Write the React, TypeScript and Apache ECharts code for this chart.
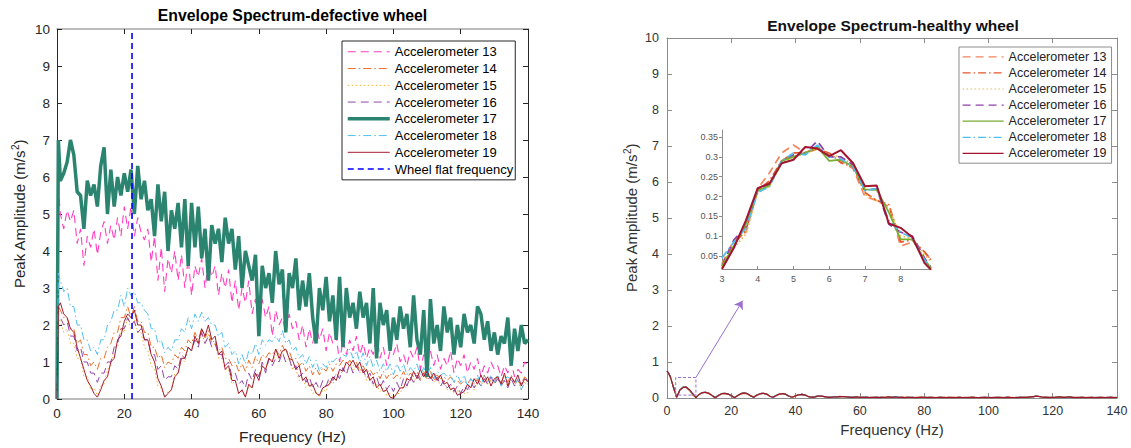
import React, { useEffect, useRef } from "react";
import * as echarts from "echarts";

// ---------- shared frequency grid (Hz): DC, 0.4 Hz, then 1..140 Hz ----------
const freqHz = [0, 0.4, ...Array.from({ length: 140 }, (_, i) => i + 1)];

// ---------- defective wheel (left) ----------
const defect13 = [0, 5.7,
  5.0, 4.6, 5.1, 4.8, 5.1, 4.2, 4.6, 3.6, 4.4, 4.1,
  4.6, 3.9, 4.5, 4.8, 4.2, 4.7, 4.3, 4.9, 4.4, 5.2,
  4.6, 5.2, 4.4, 4.9, 4.5, 4.3, 4.6, 3.7, 4.4, 3.2,
  4.1, 2.9, 3.8, 3.4, 4.0, 3.2, 3.9, 3.0, 3.8, 2.8,
  3.6, 3.3, 3.8, 3.0, 3.7, 3.3, 3.6, 2.8, 3.4, 3.0,
  3.5, 2.6, 3.2, 2.4, 3.0, 2.6, 3.2, 2.3, 2.7, 2.0,
  2.7, 2.2, 2.5, 1.7, 2.4, 2.0, 2.2, 1.8, 2.3, 1.9,
  2.1, 1.6, 2.0, 1.4, 1.9, 1.5, 2.0, 1.6, 1.9, 1.3,
  1.8, 1.5, 1.7, 1.0, 1.6, 1.2, 1.6, 1.3, 1.7, 1.2,
  1.5, 1.1, 1.4, 1.2, 1.8, 1.1, 1.4, 0.9, 1.3, 1.2,
  1.5, 1.0, 1.2, 0.9, 1.3, 1.1, 1.4, 0.8, 1.2, 1.0,
  1.3, 0.9, 1.2, 0.8, 1.1, 0.9, 1.3, 0.7, 1.1, 0.9,
  1.2, 0.7, 1.0, 0.8, 1.1, 0.6, 0.9, 0.7, 1.0, 0.8,
  0.9, 0.6, 0.9, 0.7, 1.0, 0.6, 0.8, 0.7, 1.0, 0.9];
const defect14 = [0, 2.5,
  2.4, 2.2, 2.2, 1.9, 1.9, 1.5, 1.6, 1.2, 1.2, 0.9,
  1.0, 0.8, 1.1, 1.1, 1.4, 1.5, 1.8, 1.8, 2.2, 2.2,
  2.5, 2.2, 2.5, 2.1, 2.1, 1.8, 1.8, 1.4, 1.4, 1.1,
  1.2, 0.85, 1.0, 0.95, 1.2, 1.1, 1.4, 1.3, 1.6, 1.5,
  1.8, 1.6, 1.9, 1.65, 1.85, 1.5, 1.6, 1.3, 1.4, 1.1,
  1.1, 0.9, 1.0, 0.75, 0.95, 0.75, 1.05, 0.85, 1.15, 0.95,
  1.2, 1.1, 1.25, 1.2, 1.35, 1.2, 1.45, 1.25, 1.3, 1.05,
  1.1, 0.9, 1.0, 0.75, 0.9, 0.65, 0.85, 0.65, 0.85, 0.75,
  0.95, 0.75, 0.95, 0.9, 1.05, 0.9, 1.05, 0.9, 1.0, 0.75,
  0.9, 0.7, 0.8, 0.65, 0.75, 0.55, 0.75, 0.55, 0.7, 0.55,
  0.65, 0.55, 0.75, 0.55, 0.7, 0.6, 0.75, 0.55, 0.75, 0.55,
  0.75, 0.5, 0.65, 0.55, 0.6, 0.5, 0.6, 0.45, 0.5, 0.4,
  0.5, 0.4, 0.55, 0.4, 0.55, 0.45, 0.65, 0.45, 0.5, 0.45,
  0.65, 0.45, 0.65, 0.45, 0.65, 0.45, 0.5, 0.4, 0.6, 0.5];
const defect15 = [0, 2.2,
  2.1, 1.8, 1.9, 1.5, 1.5, 1.1, 1.1, 0.6, 0.6, 0.25,
  0.3, 0.1, 0.35, 0.4, 0.8, 0.9, 1.4, 1.4, 1.9, 1.8,
  2.2, 1.9, 2.15, 1.8, 1.8, 1.4, 1.3, 0.9, 0.8, 0.35,
  0.3, 0.05, 0.2, 0.25, 0.7, 0.7, 1.1, 1.0, 1.4, 1.3,
  1.6, 1.5, 1.8, 1.5, 1.75, 1.4, 1.5, 1.1, 1.1, 0.8,
  0.8, 0.4, 0.5, 0.15, 0.2, 0.05, 0.35, 0.3, 0.7, 0.6,
  0.9, 0.8, 1.1, 1.0, 1.2, 1.1, 1.3, 1.0, 1.1, 0.8,
  0.8, 0.5, 0.6, 0.3, 0.4, 0.15, 0.2, 0.05, 0.25, 0.2,
  0.5, 0.4, 0.7, 0.6, 0.8, 0.7, 0.95, 0.75, 0.95, 0.7,
  0.8, 0.5, 0.6, 0.35, 0.4, 0.2, 0.3, 0.1, 0.15, 0.05,
  0.15, 0.15, 0.35, 0.3, 0.55, 0.45, 0.65, 0.5, 0.75, 0.55,
  0.65, 0.45, 0.55, 0.35, 0.45, 0.25, 0.35, 0.15, 0.25, 0.05,
  0.15, 0.15, 0.35, 0.25, 0.45, 0.35, 0.55, 0.4, 0.5, 0.4,
  0.6, 0.4, 0.5, 0.35, 0.5, 0.4, 0.5, 0.25, 0.45, 0.4];
const defect16 = [0, 2.3,
  2.2, 2.0, 2.1, 1.7, 1.7, 1.3, 1.4, 1.0, 1.0, 0.7,
  0.7, 0.45, 0.7, 0.7, 1.0, 1.0, 1.4, 1.5, 1.9, 1.9,
  2.2, 2.0, 2.1, 1.8, 1.9, 1.6, 1.6, 1.2, 1.2, 0.8,
  0.9, 0.5, 0.6, 0.6, 0.9, 0.8, 1.2, 1.1, 1.4, 1.3,
  1.6, 1.4, 1.8, 1.5, 1.7, 1.4, 1.5, 1.2, 1.2, 0.9,
  1.0, 0.6, 0.7, 0.4, 0.5, 0.3, 0.7, 0.5, 0.8, 0.6,
  1.0, 0.7, 1.1, 0.9, 1.1, 1.0, 1.25, 1.0, 1.1, 0.8,
  0.9, 0.6, 0.7, 0.45, 0.6, 0.3, 0.45, 0.25, 0.5, 0.35,
  0.6, 0.5, 0.7, 0.55, 0.85, 0.65, 0.95, 0.7, 0.9, 0.7,
  0.8, 0.55, 0.7, 0.4, 0.6, 0.3, 0.5, 0.25, 0.4, 0.2,
  0.45, 0.25, 0.55, 0.35, 0.6, 0.45, 0.65, 0.5, 0.7, 0.5,
  0.6, 0.45, 0.6, 0.35, 0.5, 0.3, 0.4, 0.2, 0.35, 0.15,
  0.35, 0.25, 0.45, 0.3, 0.5, 0.35, 0.55, 0.4, 0.6, 0.4,
  0.55, 0.35, 0.5, 0.3, 0.55, 0.35, 0.5, 0.4, 0.55, 0.5];
const defect17 = [0, 7.0,
  5.9, 6.1, 6.4, 7.0, 6.6, 5.6, 5.5, 4.6, 5.9, 5.5,
  5.8, 5.2, 6.3, 6.8, 5.0, 6.2, 5.2, 6.0, 5.5, 6.1,
  5.6, 6.2, 5.0, 6.3, 5.4, 5.9, 5.1, 5.4, 4.4, 5.8,
  4.8, 5.6, 4.0, 5.1, 4.6, 5.3, 4.1, 5.4, 3.6, 5.3,
  4.1, 5.2, 3.8, 4.6, 3.2, 4.7, 4.2, 4.6, 3.7, 4.9,
  4.2, 4.6, 3.5, 4.4, 3.0, 4.0, 3.6, 3.2, 3.9, 1.7,
  3.6, 3.0, 3.4, 2.6, 4.0, 3.1, 3.5, 1.8, 3.4, 3.0,
  3.8, 2.4, 3.2, 2.5, 3.4, 2.2, 1.5, 3.0, 2.4, 3.3,
  2.1, 2.8, 1.6, 3.3, 1.4, 3.0, 2.2, 2.6, 1.9, 2.9,
  2.2, 2.6, 1.5, 3.0, 1.1, 2.6, 2.0, 2.4, 1.3, 2.2,
  1.6, 2.5, 1.9, 2.3, 1.4, 2.8, 1.6, 1.2, 2.4, 0.6,
  2.7, 1.5, 2.0, 1.3, 2.5, 1.8, 2.2, 1.2, 2.0, 1.4,
  2.3, 1.8, 2.0, 1.5, 2.5, 2.3, 1.6, 2.1, 1.3, 1.8,
  1.2, 1.7, 1.5, 2.2, 0.9, 1.9, 1.3, 2.0, 1.5, 1.6];
const defect18 = [0, 3.4,
  3.2, 2.9, 3.0, 2.5, 2.5, 2.0, 2.0, 1.6, 1.6, 1.3,
  1.4, 1.2, 1.6, 1.6, 2.0, 2.1, 2.4, 2.4, 2.8, 2.5,
  3.0, 2.8, 2.9, 2.6, 2.6, 2.4, 2.3, 1.9, 1.9, 1.5,
  1.6, 1.25, 1.4, 1.3, 1.6, 1.6, 1.9, 1.8, 2.2, 1.9,
  2.3, 2.1, 2.35, 2.1, 2.2, 2.0, 2.0, 1.7, 1.8, 1.4,
  1.5, 1.2, 1.3, 0.95, 1.2, 0.95, 1.3, 1.2, 1.5, 1.2,
  1.6, 1.45, 1.6, 1.55, 1.7, 1.55, 1.85, 1.5, 1.6, 1.3,
  1.4, 1.1, 1.2, 0.95, 1.15, 0.85, 1.05, 0.75, 0.95, 0.85,
  1.05, 1.0, 1.1, 1.1, 1.2, 1.15, 1.35, 1.1, 1.3, 1.0,
  1.25, 0.9, 1.15, 0.85, 1.05, 0.75, 0.95, 0.75, 0.95, 0.65,
  0.95, 0.75, 0.95, 0.65, 0.85, 0.75, 0.95, 0.65, 0.85, 0.65,
  0.85, 0.55, 0.75, 0.65, 0.7, 0.6, 0.65, 0.45, 0.65, 0.45,
  0.65, 0.35, 0.55, 0.45, 0.65, 0.35, 0.65, 0.45, 0.65, 0.45,
  0.65, 0.35, 0.55, 0.6, 0.5, 0.35, 0.55, 0.25, 0.45, 0.35];
const defect19 = [0, 2.5,
  2.6, 2.3, 2.2, 1.9, 1.8, 1.4, 1.1, 0.8, 0.5, 0.35,
  0.15, 0.05, 0.25, 0.5, 0.6, 1.0, 1.1, 1.6, 1.7, 2.1,
  2.3, 2.2, 2.4, 2.0, 2.0, 1.6, 1.6, 1.2, 1.0, 0.55,
  0.35, 0.05, 0.15, 0.25, 0.6, 0.7, 1.1, 1.1, 1.4, 1.3,
  1.7, 1.5, 1.9, 1.7, 2.0, 1.6, 1.7, 1.2, 1.3, 0.8,
  0.9, 0.5, 0.5, 0.15, 0.25, 0.05, 0.4, 0.3, 0.7, 0.5,
  0.9, 0.8, 1.1, 1.0, 1.35, 1.1, 1.3, 1.35, 1.1, 1.05,
  0.8, 0.9, 0.5, 0.6, 0.35, 0.4, 0.15, 0.1, 0.3, 0.35,
  0.4, 0.6, 0.5, 0.8, 0.75, 1.0, 0.9, 1.05, 0.85, 1.0,
  0.7, 0.8, 0.5, 0.6, 0.3, 0.4, 0.2, 0.25, 0.05, 0.02,
  0.15, 0.3, 0.3, 0.55, 0.5, 0.75, 0.55, 0.8, 0.6, 0.75,
  0.55, 0.7, 0.5, 0.65, 0.4, 0.45, 0.25, 0.3, 0.1, 0.15,
  0.2, 0.4, 0.3, 0.55, 0.4, 0.65, 0.45, 0.6, 0.35, 0.55,
  0.6, 0.4, 0.7, 0.35, 0.6, 0.45, 0.65, 0.35, 0.55, 0.45];
const wheelFlatHz = 22.3;

// ---------- healthy wheel (right) ----------
const healthy13 = [0.74, 0.69, 0.59, 0.31, 0.03, 0.22, 0.31, 0.30, 0.20, 0.08, 0.02, 0.10, 0.15, 0.15, 0.12, 0.07, 0.02, 0.07, 0.12, 0.13, 0.11, 0.06, 0.02, 0.07, 0.12, 0.13, 0.12, 0.06, 0.03, 0.08, 0.12, 0.13, 0.10, 0.05, 0.03, 0.07, 0.11, 0.12, 0.10, 0.05, 0.03, 0.06, 0.09, 0.10, 0.08, 0.04, 0.03, 0.04, 0.05, 0.05, 0.04, 0.03,
  0.03, 0.03, 0.04, 0.04, 0.04, 0.03, 0.03, 0.03, 0.03, 0.03, 0.02, 0.03, 0.02, 0.02, 0.03, 0.02, 0.02, 0.03, 0.03, 0.02,
  0.03, 0.03, 0.02, 0.02, 0.02, 0.02, 0.02, 0.02, 0.03, 0.02, 0.02, 0.02, 0.02, 0.02, 0.02, 0.02, 0.02, 0.03, 0.02, 0.02,
  0.02, 0.02, 0.02, 0.02, 0.03, 0.02, 0.02, 0.02, 0.02, 0.02, 0.02, 0.02, 0.02, 0.02, 0.02, 0.03, 0.02, 0.02, 0.02, 0.02,
  0.02, 0.03, 0.03, 0.04, 0.05, 0.04, 0.03, 0.02, 0.02, 0.02, 0.02, 0.03, 0.03, 0.02, 0.03, 0.02, 0.02, 0.02, 0.02, 0.02,
  0.02, 0.02, 0.02, 0.02, 0.02, 0.02, 0.02, 0.02, 0.02, 0.02];
const healthy14 = [0.75, 0.70, 0.60, 0.30, 0.02, 0.22, 0.31, 0.31, 0.21, 0.09, 0.02, 0.10, 0.15, 0.16, 0.12, 0.07, 0.02, 0.07, 0.12, 0.13, 0.11, 0.06, 0.02, 0.07, 0.12, 0.13, 0.12, 0.06, 0.02, 0.08, 0.12, 0.13, 0.11, 0.05, 0.02, 0.07, 0.11, 0.12, 0.10, 0.05, 0.02, 0.06, 0.09, 0.10, 0.08, 0.04, 0.02, 0.04, 0.05, 0.05, 0.04, 0.02,
  0.02, 0.03, 0.04, 0.05, 0.04, 0.03, 0.02, 0.03, 0.03, 0.02, 0.02, 0.02, 0.02, 0.03, 0.02, 0.02, 0.02, 0.02, 0.03, 0.02,
  0.04, 0.03, 0.02, 0.02, 0.02, 0.01, 0.02, 0.02, 0.02, 0.02, 0.02, 0.01, 0.02, 0.02, 0.02, 0.02, 0.01, 0.02, 0.02, 0.01,
  0.02, 0.02, 0.01, 0.02, 0.02, 0.02, 0.01, 0.02, 0.01, 0.02, 0.02, 0.01, 0.02, 0.02, 0.01, 0.02, 0.02, 0.01, 0.02, 0.02,
  0.02, 0.02, 0.03, 0.04, 0.06, 0.04, 0.03, 0.02, 0.02, 0.02, 0.02, 0.03, 0.02, 0.02, 0.04, 0.03, 0.02, 0.02, 0.02, 0.01,
  0.02, 0.02, 0.01, 0.02, 0.02, 0.01, 0.02, 0.02, 0.01, 0.02];
const healthy15 = [0.74, 0.70, 0.59, 0.30, 0.03, 0.21, 0.30, 0.31, 0.21, 0.10, 0.02, 0.10, 0.15, 0.15, 0.12, 0.07, 0.02, 0.07, 0.11, 0.13, 0.11, 0.06, 0.02, 0.07, 0.12, 0.13, 0.11, 0.06, 0.02, 0.08, 0.12, 0.13, 0.11, 0.05, 0.02, 0.07, 0.11, 0.12, 0.10, 0.05, 0.02, 0.06, 0.09, 0.10, 0.08, 0.04, 0.02, 0.04, 0.05, 0.05, 0.04, 0.02,
  0.03, 0.02, 0.03, 0.04, 0.03, 0.03, 0.02, 0.02, 0.03, 0.02, 0.02, 0.02, 0.01, 0.02, 0.02, 0.02, 0.02, 0.02, 0.03, 0.02,
  0.03, 0.02, 0.02, 0.02, 0.02, 0.02, 0.01, 0.02, 0.02, 0.02, 0.01, 0.02, 0.02, 0.01, 0.02, 0.02, 0.02, 0.01, 0.02, 0.02,
  0.02, 0.01, 0.02, 0.02, 0.02, 0.01, 0.02, 0.02, 0.02, 0.01, 0.02, 0.02, 0.02, 0.01, 0.02, 0.02, 0.01, 0.02, 0.02, 0.02,
  0.02, 0.02, 0.03, 0.03, 0.05, 0.04, 0.02, 0.02, 0.02, 0.02, 0.02, 0.02, 0.03, 0.02, 0.02, 0.02, 0.02, 0.01, 0.02, 0.02,
  0.01, 0.02, 0.02, 0.01, 0.02, 0.02, 0.01, 0.02, 0.02, 0.02];
const healthy16 = [0.75, 0.70, 0.60, 0.30, 0.02, 0.22, 0.30, 0.30, 0.22, 0.11, 0.02, 0.10, 0.15, 0.16, 0.13, 0.07, 0.01, 0.07, 0.12, 0.13, 0.11, 0.06, 0.01, 0.07, 0.12, 0.14, 0.12, 0.06, 0.02, 0.08, 0.12, 0.13, 0.11, 0.05, 0.02, 0.07, 0.11, 0.12, 0.10, 0.05, 0.02, 0.06, 0.09, 0.10, 0.08, 0.04, 0.02, 0.03, 0.05, 0.05, 0.04, 0.02,
  0.02, 0.03, 0.03, 0.04, 0.03, 0.03, 0.02, 0.02, 0.02, 0.02, 0.02, 0.02, 0.02, 0.02, 0.02, 0.01, 0.02, 0.02, 0.02, 0.02,
  0.03, 0.02, 0.02, 0.01, 0.02, 0.02, 0.01, 0.01, 0.02, 0.02, 0.01, 0.02, 0.01, 0.02, 0.02, 0.01, 0.01, 0.02, 0.01, 0.01,
  0.02, 0.01, 0.02, 0.01, 0.02, 0.01, 0.01, 0.02, 0.02, 0.01, 0.01, 0.02, 0.02, 0.01, 0.01, 0.02, 0.01, 0.02, 0.01, 0.02,
  0.02, 0.02, 0.03, 0.04, 0.05, 0.04, 0.02, 0.02, 0.01, 0.02, 0.02, 0.03, 0.02, 0.02, 0.03, 0.02, 0.01, 0.02, 0.02, 0.01,
  0.01, 0.02, 0.01, 0.01, 0.02, 0.01, 0.02, 0.02, 0.01, 0.01];
const healthy17 = [0.75, 0.70, 0.60, 0.30, 0.02, 0.21, 0.30, 0.29, 0.22, 0.09, 0.02, 0.10, 0.15, 0.16, 0.13, 0.07, 0.01, 0.07, 0.12, 0.13, 0.11, 0.06, 0.01, 0.07, 0.12, 0.14, 0.12, 0.06, 0.02, 0.08, 0.12, 0.13, 0.11, 0.05, 0.02, 0.07, 0.11, 0.12, 0.10, 0.05, 0.02, 0.06, 0.09, 0.10, 0.08, 0.04, 0.02, 0.03, 0.05, 0.05, 0.04, 0.02,
  0.02, 0.03, 0.03, 0.04, 0.04, 0.03, 0.02, 0.02, 0.03, 0.02, 0.02, 0.02, 0.01, 0.02, 0.02, 0.01, 0.02, 0.02, 0.03, 0.02,
  0.03, 0.02, 0.02, 0.01, 0.02, 0.02, 0.01, 0.01, 0.02, 0.02, 0.01, 0.02, 0.01, 0.01, 0.02, 0.01, 0.01, 0.02, 0.01, 0.01,
  0.02, 0.01, 0.01, 0.01, 0.02, 0.01, 0.01, 0.01, 0.02, 0.01, 0.01, 0.01, 0.02, 0.01, 0.01, 0.02, 0.01, 0.01, 0.01, 0.02,
  0.02, 0.02, 0.03, 0.04, 0.05, 0.04, 0.02, 0.02, 0.01, 0.02, 0.02, 0.03, 0.02, 0.02, 0.03, 0.02, 0.01, 0.01, 0.02, 0.01,
  0.01, 0.02, 0.01, 0.01, 0.02, 0.01, 0.01, 0.02, 0.01, 0.01];
const healthy18 = [0.75, 0.70, 0.60, 0.31, 0.04, 0.21, 0.31, 0.30, 0.22, 0.11, 0.02, 0.10, 0.15, 0.16, 0.13, 0.07, 0.02, 0.07, 0.12, 0.13, 0.11, 0.06, 0.02, 0.07, 0.12, 0.14, 0.12, 0.06, 0.02, 0.08, 0.12, 0.13, 0.11, 0.05, 0.02, 0.07, 0.11, 0.12, 0.10, 0.05, 0.02, 0.06, 0.09, 0.10, 0.08, 0.04, 0.02, 0.04, 0.05, 0.05, 0.04, 0.03,
  0.03, 0.03, 0.04, 0.04, 0.03, 0.03, 0.02, 0.03, 0.03, 0.02, 0.02, 0.03, 0.02, 0.02, 0.02, 0.02, 0.02, 0.02, 0.03, 0.03,
  0.03, 0.03, 0.02, 0.02, 0.02, 0.02, 0.02, 0.01, 0.02, 0.02, 0.02, 0.02, 0.02, 0.01, 0.02, 0.02, 0.02, 0.02, 0.02, 0.01,
  0.02, 0.02, 0.02, 0.01, 0.02, 0.02, 0.02, 0.01, 0.02, 0.02, 0.02, 0.01, 0.02, 0.02, 0.02, 0.02, 0.01, 0.02, 0.02, 0.02,
  0.02, 0.03, 0.03, 0.04, 0.05, 0.04, 0.03, 0.02, 0.02, 0.02, 0.02, 0.03, 0.02, 0.02, 0.03, 0.02, 0.02, 0.02, 0.02, 0.02,
  0.02, 0.02, 0.02, 0.02, 0.02, 0.02, 0.02, 0.02, 0.02, 0.02];
const healthy19 = [0.75, 0.70, 0.60, 0.30, 0.02, 0.22, 0.29, 0.30, 0.23, 0.12, 0.01, 0.10, 0.15, 0.16, 0.13, 0.07, 0.01, 0.07, 0.12, 0.13, 0.11, 0.06, 0.01, 0.07, 0.12, 0.14, 0.12, 0.06, 0.02, 0.08, 0.12, 0.13, 0.11, 0.05, 0.02, 0.07, 0.11, 0.12, 0.10, 0.05, 0.02, 0.06, 0.09, 0.10, 0.08, 0.04, 0.02, 0.03, 0.05, 0.05, 0.04, 0.02,
  0.02, 0.03, 0.03, 0.04, 0.04, 0.03, 0.02, 0.02, 0.03, 0.02, 0.02, 0.02, 0.01, 0.02, 0.02, 0.01, 0.02, 0.02, 0.03, 0.02,
  0.03, 0.02, 0.02, 0.01, 0.02, 0.02, 0.01, 0.01, 0.02, 0.02, 0.01, 0.02, 0.01, 0.01, 0.02, 0.01, 0.01, 0.02, 0.01, 0.01,
  0.02, 0.01, 0.01, 0.01, 0.02, 0.01, 0.01, 0.01, 0.02, 0.01, 0.01, 0.01, 0.02, 0.01, 0.01, 0.02, 0.01, 0.01, 0.01, 0.02,
  0.02, 0.02, 0.03, 0.04, 0.05, 0.04, 0.02, 0.02, 0.01, 0.02, 0.02, 0.03, 0.02, 0.02, 0.03, 0.02, 0.01, 0.01, 0.02, 0.01,
  0.01, 0.02, 0.01, 0.01, 0.02, 0.01, 0.01, 0.02, 0.01, 0.01];

// zoomed view (inset) of the first side lobe, 3 - 8.85 Hz
const insetHz = [3, 3.33, 3.67, 4, 4.33, 4.67, 5, 5.33, 5.67, 6, 6.33, 6.67, 7, 7.33, 7.67, 8, 8.33, 8.67, 8.85];
const inset13 = [0.03, 0.09, 0.11, 0.22, 0.26, 0.31, 0.33, 0.31, 0.325, 0.305, 0.29, 0.27, 0.2, 0.19, 0.175, 0.075, 0.085, 0.06, 0.04];
const inset14 = [0.02, 0.08, 0.115, 0.215, 0.24, 0.29, 0.31, 0.31, 0.32, 0.31, 0.285, 0.275, 0.21, 0.19, 0.18, 0.085, 0.09, 0.06, 0.04];
const inset15 = [0.03, 0.07, 0.105, 0.21, 0.225, 0.285, 0.3, 0.31, 0.32, 0.305, 0.3, 0.28, 0.205, 0.19, 0.17, 0.1, 0.095, 0.055, 0.035];
const inset16 = [0.025, 0.09, 0.125, 0.215, 0.23, 0.29, 0.305, 0.31, 0.34, 0.3, 0.3, 0.28, 0.215, 0.22, 0.13, 0.11, 0.1, 0.045, 0.02];
const inset17 = [0.025, 0.075, 0.13, 0.215, 0.228, 0.29, 0.3, 0.31, 0.325, 0.29, 0.293, 0.275, 0.218, 0.217, 0.16, 0.092, 0.092, 0.04, 0.02];
const inset18 = [0.045, 0.085, 0.12, 0.21, 0.225, 0.29, 0.31, 0.305, 0.33, 0.3, 0.295, 0.275, 0.215, 0.22, 0.14, 0.11, 0.095, 0.04, 0.02];
const inset19 = [0.017, 0.07, 0.14, 0.221, 0.233, 0.284, 0.293, 0.325, 0.321, 0.302, 0.317, 0.284, 0.226, 0.228, 0.132, 0.121, 0.097, 0.032, 0.015];

// dashed box marking the zoomed region, and arrow tip (Hz, m/s^2)
const zoomBoxHz = [2.7, 9.0];
const zoomBoxAmp = [0.08, 0.57];
const arrowTip = [23.5, 2.7];

const sensorNames = ["Accelerometer 13", "Accelerometer 14", "Accelerometer 15", "Accelerometer 16", "Accelerometer 17", "Accelerometer 18", "Accelerometer 19"];

const FONT = "Liberation Sans, Arial, Helvetica, sans-serif";

function mkLine(name: string, xi: number, yi: number, xs: number[], ys: number[], color: string, width: number, dash: any, z = 2) {
  return {
    type: "line",
    name,
    xAxisIndex: xi,
    yAxisIndex: yi,
    data: xs.map((x, i) => [x, ys[i]]),
    symbol: "none",
    silent: true,
    z,
    lineStyle: { color, width, type: dash, cap: "butt" },
    itemStyle: { color },
  };
}

const DASH = [8, 5];
const DASHDOT = [8, 3, 1.5, 3];
const DOT = [1.5, 2.5];

export default function App() {
  const ref = useRef<HTMLDivElement>(null);

  useEffect(() => {
    document.body.style.margin = "0";
    const chart = echarts.init(ref.current!, null, { renderer: "svg" });

    const leftStyles = [
      ["#ff3dbf", 1.1, DASH],
      ["#e8702a", 1, DASHDOT],
      ["#f0b030", 1, DOT],
      ["#9247ac", 1, DASH],
      ["#2b8470", 3.5, "solid"],
      ["#55c0f0", 1, DASHDOT],
      ["#a51c30", 1, "solid"],
    ];
    const rightStyles = [
      ["#f4845f", 1.2, DASH],
      ["#e8562a", 1.2, DASHDOT],
      ["#f0b640", 1.2, DOT],
      ["#8e3fa8", 1.2, DASH],
      ["#77ac30", 1.2, "solid"],
      ["#4dbeee", 1.2, DASHDOT],
      ["#a2142f", 1.2, "solid"],
    ];
    const defect = [defect13, defect14, defect15, defect16, defect17, defect18, defect19];
    const healthy = [healthy13, healthy14, healthy15, healthy16, healthy17, healthy18, healthy19];
    const inset = [inset13, inset14, inset15, inset16, inset17, inset18, inset19];

    const series: any[] = [];
    defect.forEach((d, i) => {
      const [c, w, t] = leftStyles[i] as any;
      series.push(mkLine(sensorNames[i], 0, 0, freqHz, d, c, w, t));
    });
    series.push(mkLine("Wheel flat frequency", 0, 0, [wheelFlatHz, wheelFlatHz], [0, 10], "#0000ff", 1.6, [6, 4], 3));
    healthy.forEach((d, i) => {
      const [c, w, t] = rightStyles[i] as any;
      series.push(mkLine("H|" + sensorNames[i], 2, 2, freqHz, d, c, w, t));
    });
    series.push({
      type: "line",
      name: "zoomBox",
      xAxisIndex: 2,
      yAxisIndex: 2,
      symbol: "none",
      silent: true,
      data: [
        [zoomBoxHz[0], zoomBoxAmp[0]],
        [zoomBoxHz[0], zoomBoxAmp[1]],
        [zoomBoxHz[1], zoomBoxAmp[1]],
        [zoomBoxHz[1], zoomBoxAmp[0]],
        [zoomBoxHz[0], zoomBoxAmp[0]],
      ],
      lineStyle: { color: "#9a6fd0", width: 1, type: [3, 2] },
      markLine: {
        silent: true,
        symbol: ["none", "arrow"],
        symbolSize: 8,
        label: { show: false },
        lineStyle: { color: "#9a6fd0", width: 1, type: "solid" },
        data: [[{ coord: [zoomBoxHz[1], zoomBoxAmp[1]] }, { coord: arrowTip }]],
      },
    });
    inset.forEach((d, i) => {
      const [c, , t] = rightStyles[i] as any;
      series.push(mkLine("I|" + sensorNames[i], 4, 4, insetHz, d, c, i === 6 ? 2 : 1.7, t));
    });

    const axisCommon = (opts: any) => ({
      type: "value",
      splitLine: { show: false },
      ...opts,
    });

    const leftDark = "#262626";
    const leftGray = "#a6a6a6";
    const rightGray = "#8c8c8c";

    const xAxes = [
      axisCommon({
        gridIndex: 0, position: "bottom", min: 0, max: 140, interval: 20,
        axisLine: { onZero: false, lineStyle: { color: leftGray, width: 1.5 } },
        axisTick: { inside: true, length: 5, lineStyle: { color: leftDark } },
        axisLabel: { color: leftDark, fontSize: 13.5, fontFamily: FONT, margin: 7 },
        name: "Frequency (Hz)", nameLocation: "middle", nameGap: 29,
        nameTextStyle: { color: leftDark, fontSize: 15.5, fontFamily: FONT },
      }),
      axisCommon({
        gridIndex: 0, position: "top", min: 0, max: 140, interval: 20,
        axisLine: { onZero: false, lineStyle: { color: leftGray, width: 1.5 } },
        axisTick: { inside: true, length: 5, lineStyle: { color: leftDark } },
        axisLabel: { show: false },
      }),
      axisCommon({
        gridIndex: 1, position: "bottom", min: 0, max: 140, interval: 20,
        axisLine: { onZero: false, lineStyle: { color: rightGray, width: 1 } },
        axisTick: { inside: true, length: 5, lineStyle: { color: rightGray } },
        axisLabel: { color: "#333", fontSize: 12.5, fontFamily: FONT, margin: 6 },
        name: "Frequency (Hz)", nameLocation: "middle", nameGap: 23,
        nameTextStyle: { color: "#333", fontSize: 15, fontFamily: FONT },
      }),
      axisCommon({
        gridIndex: 1, position: "top", min: 0, max: 140, interval: 20,
        axisLine: { onZero: false, lineStyle: { color: rightGray, width: 1 } },
        axisTick: { inside: true, length: 5, lineStyle: { color: rightGray } },
        axisLabel: { show: false },
      }),
      axisCommon({
        gridIndex: 2, position: "bottom", min: 3, max: 8.85, interval: 1,
        axisLine: { onZero: false, lineStyle: { color: "#8c8c8c", width: 1 } },
        axisTick: { inside: true, length: 3, lineStyle: { color: "#8c8c8c" } },
        axisLabel: { color: "#555", fontSize: 9, fontFamily: FONT, margin: 5, showMaxLabel: false },
      }),
    ];

    const yAxes = [
      axisCommon({
        gridIndex: 0, position: "left", min: 0, max: 10, interval: 1,
        axisLine: { onZero: false, lineStyle: { color: leftDark, width: 1 } },
        axisTick: { inside: true, length: 5, lineStyle: { color: leftDark } },
        axisLabel: { color: leftDark, fontSize: 13.5, fontFamily: FONT, margin: 7 },
        name: "Peak Amplitude (m/s{sup|2})", nameLocation: "middle", nameGap: 29,
        nameTextStyle: {
          color: leftDark, fontSize: 15, fontFamily: FONT,
          rich: { sup: { fontSize: 10, fontFamily: FONT, color: leftDark, padding: [0, 0, 8, 0] } },
        },
      }),
      axisCommon({
        gridIndex: 0, position: "right", min: 0, max: 10, interval: 1,
        axisLine: { onZero: false, lineStyle: { color: leftDark, width: 1 } },
        axisTick: { inside: true, length: 5, lineStyle: { color: leftDark } },
        axisLabel: { show: false },
      }),
      axisCommon({
        gridIndex: 1, position: "left", min: 0, max: 10, interval: 1,
        axisLine: { onZero: false, lineStyle: { color: rightGray, width: 1 } },
        axisTick: { inside: true, length: 5, lineStyle: { color: rightGray } },
        axisLabel: { color: "#333", fontSize: 12.5, fontFamily: FONT, margin: 8 },
        name: "Peak Amplitude (m/s{sup|2})", nameLocation: "middle", nameGap: 27,
        nameTextStyle: {
          color: "#333", fontSize: 15, fontFamily: FONT,
          rich: { sup: { fontSize: 10, fontFamily: FONT, color: "#333", padding: [0, 0, 8, 0] } },
        },
      }),
      axisCommon({
        gridIndex: 1, position: "right", min: 0, max: 10, interval: 1,
        axisLine: { onZero: false, lineStyle: { color: rightGray, width: 1 } },
        axisTick: { inside: true, length: 5, lineStyle: { color: rightGray } },
        axisLabel: { show: false },
      }),
      axisCommon({
        gridIndex: 2, position: "left", min: 0.017, max: 0.368, splitNumber: 7,
        axisLine: { onZero: false, lineStyle: { color: "#8c8c8c", width: 1 } },
        axisTick: { inside: false, length: 3, lineStyle: { color: "#8c8c8c" } },
        axisLabel: {
          color: "#555", fontSize: 9, fontFamily: FONT, margin: 4,
          showMinLabel: false, showMaxLabel: false,
        },
      }),
    ];

    const legendCommon = {
      orient: "vertical",
      selectedMode: false,
      backgroundColor: "#ffffff",
      borderWidth: 1,
      itemHeight: 14,
      itemStyle: { opacity: 0 },
      lineStyle: { width: "inherit" },
      textStyle: { color: "#000", fontFamily: FONT },
    };

    const option: any = {
      animation: false,
      backgroundColor: "#ffffff",
      title: [
        {
          text: "Envelope Spectrum-defective wheel",
          left: 292.5, top: 7, textAlign: "center", padding: 0,
          textStyle: { fontSize: 15.8, fontWeight: "bold", color: "#000", fontFamily: FONT },
        },
        {
          text: "Envelope Spectrum-healthy wheel",
          left: 893, top: 17, textAlign: "center", padding: 0,
          textStyle: { fontSize: 15.5, fontWeight: "bold", color: "#111", fontFamily: FONT },
        },
      ],
      grid: [
        { left: 57, top: 29, width: 471, height: 370, containLabel: false, outerBoundsMode: "none" },
        { left: 667, top: 38, width: 450, height: 360, containLabel: false, outerBoundsMode: "none" },
        { left: 722, top: 130, width: 209, height: 139, containLabel: false, outerBoundsMode: "none" },
      ],
      legend: [
        {
          ...legendCommon,
          left: 342, top: 41,
          padding: [4.3, 2, 4.3, 4],
          itemWidth: 42,
          itemGap: 3.75,
          borderColor: "#262626",
          textStyle: { ...legendCommon.textStyle, fontSize: 13 },
          data: [...sensorNames, "Wheel flat frequency"],
        },
        {
          ...legendCommon,
          left: 959, top: 47,
          padding: [3.3, 5, 3.3, 3],
          itemWidth: 41,
          itemGap: 3.1,
          borderColor: "#8c8c8c",
          textStyle: { ...legendCommon.textStyle, fontSize: 12.5, color: "#222" },
          formatter: (n: string) => n.replace("H|", ""),
          data: sensorNames.map((n) => "H|" + n),
        },
      ],
      xAxis: xAxes,
      yAxis: yAxes,
      series,
    };

    chart.setOption(option);
    return () => chart.dispose();
  }, []);

  return <div ref={ref} style={{ width: 1131, height: 448 }} />;
}
